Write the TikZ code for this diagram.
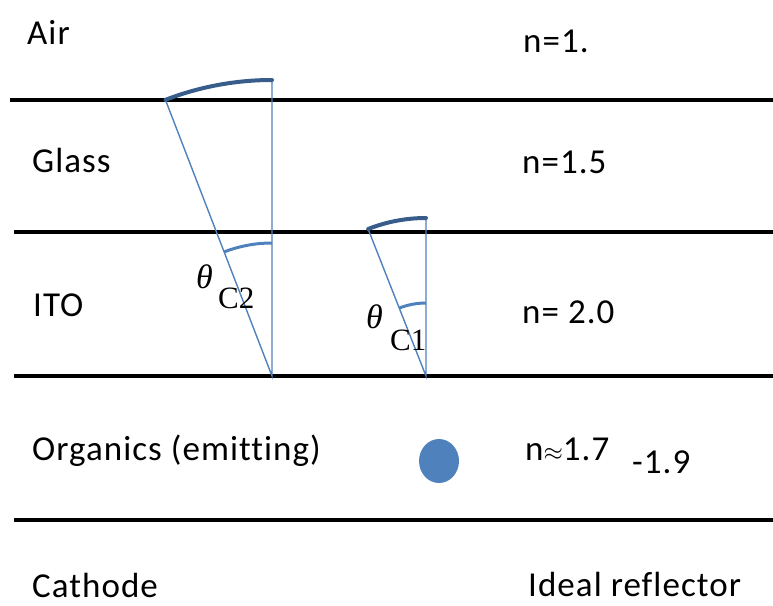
\documentclass[tikz,border=0pt]{standalone}
\usepackage{fontspec}
\setmainfont{Carlito}[LetterSpace=3, Ligatures=NoCommon]
\newfontfamily\thetafont{Liberation Serif}
\usetikzlibrary{shapes.geometric}
\definecolor{rayblue}{HTML}{4F81BD}
\definecolor{capblue}{HTML}{385D8A}
\begin{document}
\begin{tikzpicture}[x=1pt,y=-1pt]
\tikzset{
  layerline/.style={line width=4.5pt, draw=black},
  ray/.style={line width=1.4pt, draw=rayblue},
  caparc/.style={line width=4pt, draw=capblue, line cap=round},
  anglearc/.style={line width=3pt, draw=rayblue},
  lbl/.style={anchor=base west, inner sep=0pt, font=\fontsize{35}{40}\selectfont},
  thlbl/.style={anchor=base west, inner sep=0pt, font=\thetafont\fontsize{31}{36}\selectfont},
}
\useasboundingbox (0,0) rectangle (773,605);

% layer boundaries
\coordinate (L1a) at (10,100);  \coordinate (L1b) at (773,100);
\coordinate (L2a) at (14,232);  \coordinate (L2b) at (773,232);
\coordinate (L3a) at (14,376);  \coordinate (L3b) at (773,376);
\coordinate (L4a) at (14,520);  \coordinate (L4b) at (773,520);
\draw[layerline] (L1a) -- (L1b);
\draw[layerline] (L2a) -- (L2b);
\draw[layerline] (L3a) -- (L3b);
\draw[layerline] (L4a) -- (L4b);

% large cone (theta C2)
\coordinate (A2) at (272,376);
\coordinate (T2) at (272,80);
\coordinate (S2) at ([shift={(248.9:296)}]A2);
\draw[ray] (T2) -- (A2) -- (S2);
\draw[caparc] (S2) arc[start angle=248.9, end angle=270, radius=296];
\draw[anglearc] ([shift={(248.9:133)}]A2) arc[start angle=248.9, end angle=270, radius=133];

% small cone (theta C1)
\coordinate (A1) at (426,376);
\coordinate (T1) at (426,218);
\coordinate (S1) at ([shift={(248.5:158)}]A1);
\draw[ray] (T1) -- (A1) -- (S1);
\draw[caparc] (S1) arc[start angle=248.5, end angle=270, radius=158];
\draw[anglearc] ([shift={(248.5:73)}]A1) arc[start angle=248.5, end angle=270, radius=73];

% emitter
\node (emitter) [ellipse, fill=rayblue, minimum width=40pt, minimum height=44pt, inner sep=0pt] at (439,461) {};

% layer labels
\node (air)  [lbl] at (27,44)  {Air};
\node (glass)[lbl] at (32,172) {Glass};
\node (ito)  [lbl] at (33,316) {ITO};
\node (org)  [lbl] at (32,460) {Organics (emitting)};
\node (cath) [lbl] at (32,597) {Cathode};

% indices
\node (n1) [lbl] at (523,52)  {n=1.};
\node (n2) [lbl] at (522,173) {n=1.5};
\node (n3) [lbl] at (522,323) {n= 2.0};
\node (n4) [lbl] at (525,460) {n$\approx$1.7};
\node (n4b)[lbl] at (632,473) {-1.9};
\node (refl)[lbl] at (528,596) {Ideal reflector};

% angle labels
\node (th2)  [thlbl] at (196,288) {\fontsize{34}{38}\selectfont\itshape θ};
\node (c2)   [thlbl] at (218,308) {C2};
\node (th1)  [thlbl] at (366,328) {\fontsize{34}{38}\selectfont\itshape θ};
\node (c1)   [thlbl] at (390,350) {C1};
\end{tikzpicture}
\end{document}
